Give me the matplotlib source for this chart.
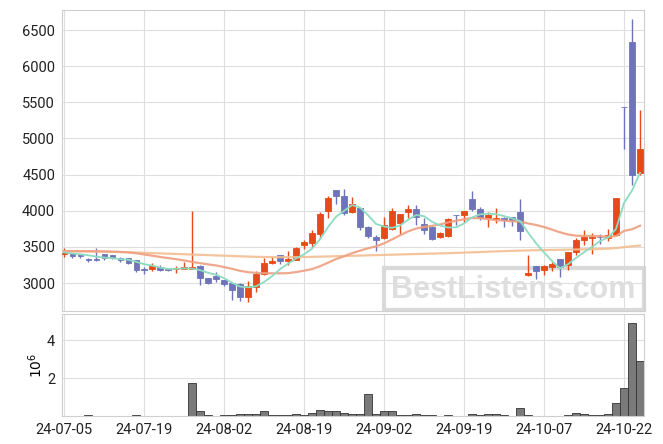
import matplotlib
matplotlib.use("Agg")
import matplotlib.pyplot as plt
import numpy as np
import pandas as pd
from matplotlib.patches import Rectangle

plt.rcParams['font.family'] = ['Roboto', 'DejaVu Sans']

# daily prices, 24-07-05 .. 24-10-24 (73 trading days)
opens = [3400, 3420, 3405, 3330, 3330, 3400, 3385, 3345, 3345, 3315,
         3190, 3195, 3225, 3190, 3190, 3190, 3190, 3235, 3065, 3095,
         3035, 2995, 2980, 2800, 2940, 3120, 3275, 3390, 3300, 3325,
         3530, 3560, 3685, 3990, 4280, 4210, 3980, 4035, 3770, 3630,
         3620, 3750, 3830, 3980, 4030, 3815, 3780, 3640, 3645, 3940,
         3935, 4165, 4030, 3900, 3890, 3905, 3910, 3980, 3105, 3235,
         3180, 3215, 3330, 3250, 3425, 3595, 3625, 3635, 3620, 3665,
         5430, 6330, 4520]
highs = [3490, 3420, 3405, 3350, 3480, 3400, 3385, 3360, 3345, 3315,
         3220, 3280, 3250, 3205, 3240, 3287, 4000, 3250, 3065, 3150,
         3040, 3000, 2995, 3030, 3160, 3345, 3375, 3390, 3445, 3500,
         3595, 3730, 3980, 4205, 4290, 4305, 4185, 4040, 3795, 3660,
         3920, 4035, 3960, 4075, 4075, 3905, 3785, 3705, 3900, 3945,
         4000, 4270, 4050, 3980, 4035, 3920, 3920, 4165, 3390, 3240,
         3250, 3290, 3330, 3435, 3620, 3735, 3690, 3675, 3745, 4180,
         5430, 6650, 5390]
lows = [3365, 3350, 3350, 3295, 3300, 3315, 3330, 3295, 3270, 3150,
        3120, 3160, 3160, 3165, 3135, 3190, 3190, 2975, 2985, 3010,
        2965, 2760, 2750, 2740, 2880, 3110, 3270, 3260, 3250, 3315,
        3475, 3500, 3620, 3900, 4095, 3940, 3975, 3735, 3620, 3445,
        3610, 3735, 3675, 3900, 3805, 3675, 3595, 3620, 3640, 3805,
        3850, 3990, 3875, 3780, 3830, 3780, 3795, 3600, 3100, 3055,
        3110, 3165, 3090, 3180, 3390, 3520, 3400, 3540, 3575, 3660,
        4855, 4360, 4490]
closes = [3420, 3380, 3380, 3325, 3325, 3350, 3340, 3315, 3280, 3185,
          3185, 3240, 3180, 3185, 3195, 3215, 3220, 3075, 3005, 3055,
          2980, 2900, 2810, 2960, 3125, 3275, 3305, 3300, 3335, 3485,
          3570, 3690, 3955, 4175, 4200, 3975, 4090, 3780, 3645, 3590,
          3805, 3990, 3955, 4030, 3920, 3730, 3605, 3690, 3890, 3935,
          4000, 4025, 3900, 3935, 3905, 3865, 3870, 3720, 3135, 3160,
          3235, 3270, 3215, 3425, 3590, 3630, 3630, 3630, 3665, 4180,
          5430, 4490, 4860]
# volume in millions of shares
volumes = [0.02, 0.02, 0.02, 0.06, 0.02, 0.02, 0.02, 0.02, 0.02, 0.06,
           0.02, 0.02, 0.02, 0.02, 0.02, 0.02, 1.75, 0.28, 0.07, 0.02,
           0.05, 0.05, 0.12, 0.12, 0.12, 0.26, 0.06, 0.06, 0.06, 0.10,
           0.06, 0.18, 0.30, 0.25, 0.25, 0.17, 0.12, 0.12, 1.15, 0.12,
           0.25, 0.25, 0.06, 0.06, 0.10, 0.06, 0.06, 0.02, 0.06, 0.02,
           0.02, 0.12, 0.06, 0.12, 0.12, 0.07, 0.02, 0.42, 0.06, 0.02,
           0.02, 0.02, 0.02, 0.06, 0.18, 0.12, 0.06, 0.06, 0.12, 0.68,
           1.48, 4.88, 2.90]

# moving averages before enough days are available
ma5_head = [3425, 3408, 3398, 3384]
ma20_head = [3440, 3441, 3441, 3440, 3439, 3437, 3434, 3430, 3425, 3412,
             3395, 3378, 3360, 3345, 3330, 3312, 3292, 3275, 3258]
ma60 = [3440, 3440, 3439, 3438, 3437, 3435, 3432, 3429, 3426, 3422,
        3418, 3414, 3410, 3406, 3402, 3398, 3394, 3390, 3386, 3382,
        3378, 3374, 3370, 3366, 3362, 3360, 3358, 3357, 3357, 3358,
        3360, 3362, 3365, 3368, 3371, 3374, 3377, 3380, 3383, 3386,
        3389, 3392, 3395, 3398, 3401, 3404, 3407, 3410, 3413, 3417,
        3421, 3425, 3429, 3433, 3437, 3441, 3445, 3448, 3451, 3454,
        3456, 3458, 3460, 3462, 3464, 3466, 3468, 3471, 3476, 3484,
        3496, 3508, 3518]

tick_labels = ["24-07-05", "24-07-19", "24-08-02", "24-08-19",
               "24-09-02", "24-09-19", "24-10-07", "24-10-22"]

n = len(closes)
x = np.arange(n)
o = np.array(opens)
c = np.array(closes)
h = np.array(highs)
l = np.array(lows)

cs = pd.Series(closes, dtype=float)
ma5 = cs.rolling(5).mean().values
ma5[:4] = ma5_head
ma20 = cs.rolling(20).mean().values
ma20[:19] = ma20_head

UP = '#e64a19'
DOWN = '#6f74b8'
GRID = '#dedede'
colors = [UP if c[i] > o[i] else DOWN for i in range(n)]

fig = plt.figure(figsize=(6.63, 4.44), dpi=100)
ax = fig.add_axes([62 / 663, 1 - 311 / 444, 582 / 663, 301 / 444])
vax = fig.add_axes([62 / 663, 1 - 416 / 444, 582 / 663, 102 / 444], sharex=ax)

# watermark
ax.add_patch(Rectangle((384 / 663, 1 - 310 / 444), 260 / 663, 42 / 444,
                       transform=fig.transFigure, fill=False, ec='#d9d9d9',
                       lw=3, zorder=1, clip_on=False))
ax.text(513 / 663, 1 - 290 / 444, "BestListens.com", transform=fig.transFigure,
        ha='center', va='center', fontsize=22, fontweight='bold',
        family='Liberation Sans', color='#dedede', zorder=1)

# candles
ax.vlines(x, l, h, colors=colors, lw=1, zorder=2)
body = np.abs(c - o)
ax.bar(x, body, bottom=np.minimum(o, c), width=0.66, color=colors,
       edgecolor=colors, linewidth=0.6, zorder=3)

ax.plot(x, ma60, color='#f3bf93', lw=1.6, alpha=0.9, zorder=4)
ax.plot(x, ma20, color='#ee9f80', lw=1.6, alpha=0.9, zorder=4)
ax.plot(x, ma5, color='#8ddcc2', lw=1.3, zorder=4)

ax.set_ylim(2613, 6777)
ax.set_yticks([3000, 3500, 4000, 4500, 5000, 5500, 6000, 6500])
ax.set_xlim(-0.27, n - 0.5)

# volume
vax.bar(x, np.array(volumes) * 1e6, width=1.0, color='#7a7a7a',
        edgecolor='#333333', linewidth=0.6, zorder=2)
vax.set_ylim(0, 5.37e6)
vax.set_yticks([2e6, 4e6])
vax.set_yticklabels(['2', '4'])
vax.set_ylabel(r'$10^{6}$', fontsize=10, labelpad=1)

vax.set_xticks(np.arange(0, n, 10))
vax.set_xticklabels(tick_labels)
plt.setp(ax.get_xticklabels(), visible=False)

for a in (ax, vax):
    a.grid(True, color=GRID, lw=0.8, zorder=0)
    a.set_axisbelow(True)
    a.tick_params(length=0, labelsize=10.5, colors='#222222', pad=5)
    for s in a.spines.values():
        s.set_color('#cfcfcf')
        s.set_linewidth(0.8)

fig.savefig('out.png', dpi=100)
